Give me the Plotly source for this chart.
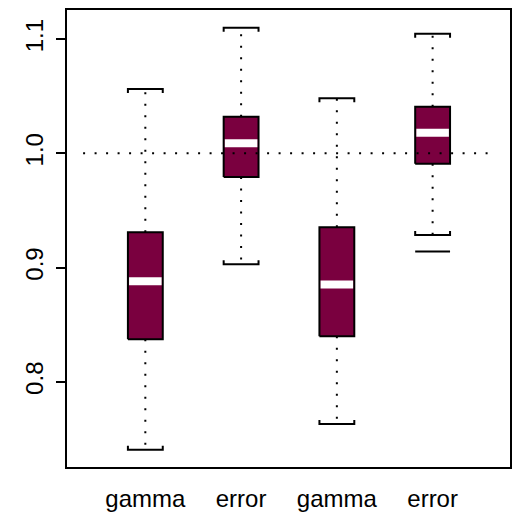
import plotly.graph_objects as go

# Box statistics for the four groups
labels = ["gamma", "error", "gamma", "error"]
positions = [1, 2, 3, 4]
lower_whisker = [0.7405, 0.9028, 0.7631, 0.9285]
q1 = [0.8372, 0.9793, 0.8398, 0.9910]
median = [0.8880, 1.0089, 0.8851, 1.0181]
q3 = [0.9309, 1.0320, 0.9352, 1.0407]
upper_whisker = [1.0564, 1.1099, 1.0482, 1.1046]
outliers = [[], [], [], [0.9140]]

# Reference level drawn as a dotted horizontal line
ref_level = 1.0
ref_span = [0.35, 4.65]

y_ticks = [0.8, 0.9, 1.0, 1.1]
y_range = [0.7254, 1.1255]
x_range = [0.182, 4.808]

FILL = "#7A003F"
HALF = 0.182          # half box width in x units
CAP_TICK = 0.0035     # length of the little cap ends in y units
DOT = "2px,9.5px"
FONT = "Liberation Sans, Arial, Helvetica, sans-serif"

fig = go.Figure()


def seg(xs, ys, color="black", width=2, dash="solid"):
    fig.add_trace(go.Scatter(
        x=xs, y=ys, mode="lines",
        line=dict(color=color, width=width, dash=dash),
        showlegend=False, hoverinfo="skip"))


for i, x in enumerate(positions):
    # whiskers (dotted)
    seg([x, x], [q3[i], upper_whisker[i]], dash=DOT)
    seg([x, x], [q1[i], lower_whisker[i]], dash=DOT)
    # caps with small ends turned toward the box
    seg([x - HALF, x - HALF, x + HALF, x + HALF],
        [upper_whisker[i] - CAP_TICK, upper_whisker[i], upper_whisker[i], upper_whisker[i] - CAP_TICK])
    seg([x - HALF, x - HALF, x + HALF, x + HALF],
        [lower_whisker[i] + CAP_TICK, lower_whisker[i], lower_whisker[i], lower_whisker[i] + CAP_TICK])
    # box
    fig.add_trace(go.Scatter(
        x=[x - HALF, x + HALF, x + HALF, x - HALF, x - HALF],
        y=[q1[i], q1[i], q3[i], q3[i], q1[i]],
        mode="lines", fill="toself", fillcolor=FILL,
        line=dict(color="black", width=2),
        showlegend=False, hoverinfo="skip"))
    # median band
    seg([x - HALF + 0.012, x + HALF - 0.012], [median[i], median[i]], color="white", width=8)
    # outliers drawn as horizontal dashes
    for v in outliers[i]:
        seg([x - HALF, x + HALF], [v, v])

seg(ref_span, [ref_level, ref_level], dash=DOT)

fig.update_layout(
    width=516, height=516, autosize=False,
    margin=dict(l=67, r=4, t=10, b=47),
    paper_bgcolor="white", plot_bgcolor="white",
    font=dict(family=FONT, color="black", size=24),
    xaxis=dict(
        range=x_range, showgrid=False, zeroline=False,
        showline=True, mirror=True, linecolor="black", linewidth=2,
        ticks="", tickvals=positions, ticktext=labels,
        tickfont=dict(size=24, family=FONT), ticklabelstandoff=9,
    ),
    yaxis=dict(
        range=y_range, showgrid=False, zeroline=False,
        showline=True, mirror=True, linecolor="black", linewidth=2,
        ticks="outside", ticklen=9, tickwidth=2, tickcolor="black",
        tickvals=y_ticks, ticktext=[f"{v:.1f}" for v in y_ticks],
        tickangle=-90, tickfont=dict(size=24, family=FONT),
        ticklabelstandoff=3,
    ),
)

fig.write_html("out.html")
